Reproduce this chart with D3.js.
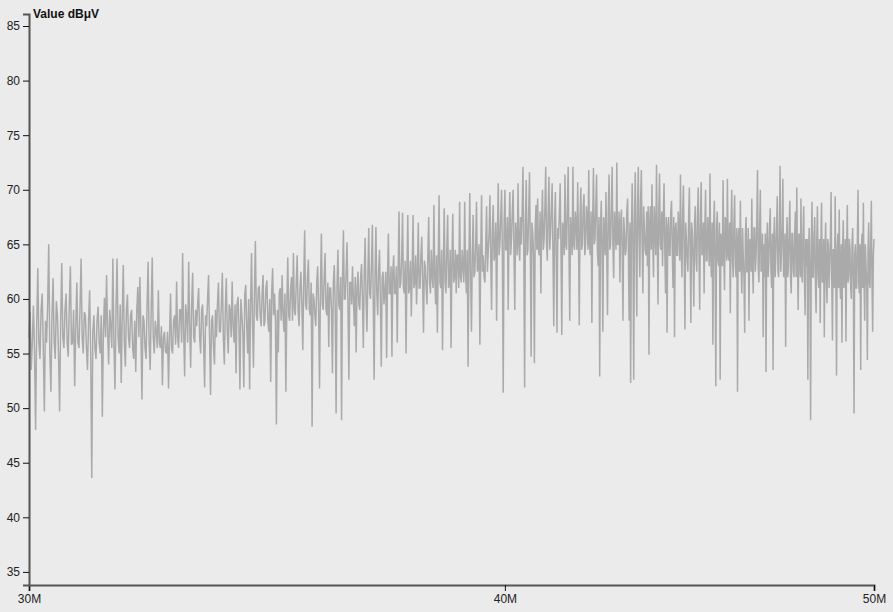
<!DOCTYPE html>
<html>
<head>
<meta charset="utf-8">
<script src="https://cdn.jsdelivr.net/npm/d3@7"></script>
<style>
  html, body { margin: 0; padding: 0; background: #ebebeb; }
  svg { display: block; }
  .axis text { font-family: "Liberation Sans", Arial, sans-serif; font-size: 12px; fill: #222; }
  .axis .domain { stroke: #555; stroke-width: 2; }
  .axis .tick line { stroke: #111; stroke-width: 1; }
</style>
</head>
<body>
<svg id="chart" width="893" height="612"></svg>
<script>
// Frequency sweep: 30 MHz to 50 MHz, one reading every 20 kHz
const startFreq = 30e6;
const stepFreq = 20e3;
const yTitle = "Value dBμV";
const xTickValues = [30e6, 40e6, 50e6];
const xTickLabels = ["30M", "40M", "50M"];
const yTickValues = [35, 40, 45, 50, 55, 60, 65, 70, 75, 80, 85];
const yDomain = [33.8, 86.1];

const values = [
  56.5, 58.8, 53.5, 56.0, 59.4, 55.2, 48.0, 57.5, 62.8, 56.0, 54.5, 59.0, 60.5, 55.5, 49.7, 58.0, 56.0, 59.5, 65.0, 55.0,
  51.5, 58.5, 61.9, 56.0, 54.5, 59.8, 58.5, 55.0, 49.7, 58.0, 63.3, 56.5, 55.5, 59.0, 60.5, 56.0, 54.7, 59.5, 63.0, 55.8,
  56.0, 59.0, 52.0, 57.5, 61.5, 56.0, 55.5, 59.2, 63.7, 56.5, 55.0, 58.8, 58.5, 55.5, 53.5, 58.0, 60.8, 55.0, 43.6, 57.0,
  58.5, 55.5, 54.5, 58.0, 59.3, 56.0, 55.0, 58.5, 49.2, 57.0, 60.1, 56.5, 62.2, 57.0, 54.0, 59.0, 57.5, 55.5, 63.7, 56.0,
  51.7, 59.0, 63.7, 56.5, 55.0, 59.5, 52.3, 58.5, 63.1, 56.0, 53.8, 59.0, 60.4, 56.5, 55.5, 58.5, 59.0, 55.5, 54.5, 58.0,
  53.3, 59.0, 61.1, 56.5, 62.0, 57.0, 50.8, 58.5, 58.0, 55.5, 54.5, 59.5, 63.4, 56.0, 53.5, 59.0, 63.8, 56.5, 55.0, 58.0,
  57.0, 55.5, 60.8, 56.0, 55.5, 57.5, 52.1, 56.5, 57.0, 55.2, 55.0, 57.0, 51.8, 56.5, 60.5, 55.5, 55.0, 58.0, 58.5, 55.8,
  61.6, 56.5, 55.5, 59.0, 59.0, 56.0, 64.2, 57.0, 52.9, 59.5, 58.5, 56.0, 63.4, 57.5, 53.7, 59.5, 62.4, 56.5, 56.0, 59.0,
  57.5, 59.5, 61.0, 56.5, 55.0, 59.0, 59.5, 56.0, 51.9, 58.5, 57.5, 60.0, 62.2, 56.5, 51.2, 58.0, 58.5, 55.5, 54.0, 59.0,
  56.5, 59.5, 61.5, 57.0, 57.0, 59.5, 62.4, 56.5, 54.0, 59.0, 61.9, 57.0, 55.0, 59.5, 59.0, 56.5, 61.6, 57.5, 56.0, 59.5,
  53.2, 59.5, 60.2, 57.5, 51.7, 60.0, 58.5, 57.0, 51.9, 60.5, 61.3, 57.5, 55.0, 60.0, 51.7, 59.5, 64.2, 58.0, 53.7, 60.5,
  65.3, 58.5, 58.0, 61.0, 61.1, 58.5, 57.5, 60.5, 62.2, 57.5, 58.0, 61.0, 61.7, 58.0, 57.0, 60.0, 52.4, 60.5, 62.8, 58.5,
  60.5, 58.0, 48.5, 59.0, 55.1, 60.5, 61.0, 58.0, 62.2, 58.5, 57.0, 60.5, 51.5, 59.5, 63.8, 58.5, 58.0, 61.0, 62.0, 58.0,
  64.2, 59.0, 58.5, 61.5, 64.0, 59.0, 57.5, 61.0, 62.5, 59.5, 55.3, 61.5, 66.3, 59.5, 59.0, 62.0, 63.6, 59.0, 58.5, 61.5,
  48.3, 60.5, 60.0, 58.5, 57.5, 61.5, 63.0, 59.0, 51.8, 61.0, 66.0, 59.5, 59.0, 62.0, 64.2, 59.0, 58.5, 61.5, 55.6, 61.0,
  61.0, 59.0, 53.2, 61.5, 63.1, 59.5, 49.5, 61.0, 64.5, 59.5, 59.0, 62.0, 48.9, 61.5, 66.3, 60.0, 60.0, 62.5, 65.2, 59.5,
  52.6, 61.5, 61.5, 59.5, 63.0, 60.0, 57.5, 62.0, 55.1, 61.0, 62.5, 59.5, 59.0, 62.0, 63.2, 60.0, 55.5, 62.5, 65.6, 60.0,
  57.0, 62.0, 66.5, 60.5, 60.0, 63.0, 66.8, 60.0, 52.6, 62.0, 66.6, 60.5, 58.5, 62.5, 64.5, 60.0, 53.8, 62.0, 62.5, 59.5,
  60.5, 62.5, 54.6, 62.0, 66.0, 60.5, 60.5, 63.0, 54.7, 62.5, 64.0, 60.5, 60.5, 63.0, 56.0, 62.5, 68.0, 61.0, 61.5, 63.5,
  67.9, 61.0, 60.5, 63.5, 55.0, 62.5, 67.7, 60.5, 61.0, 63.5, 58.4, 62.5, 67.7, 61.0, 61.5, 64.0, 59.5, 62.5, 67.0, 61.0,
  61.0, 64.0, 65.7, 61.5, 56.9, 63.5, 63.0, 61.0, 59.5, 64.0, 67.5, 61.5, 60.5, 64.5, 62.0, 61.0, 68.6, 62.0, 59.5, 64.0,
  56.9, 63.5, 69.5, 61.5, 61.0, 64.5, 55.3, 63.0, 68.3, 61.5, 60.5, 64.5, 67.7, 61.0, 61.5, 64.5, 55.5, 63.5, 67.8, 61.5,
  62.0, 64.5, 60.5, 64.0, 64.0, 61.0, 68.9, 62.0, 61.5, 64.5, 63.0, 61.5, 68.9, 62.5, 60.5, 64.5, 53.8, 63.5, 69.7, 62.0,
  57.0, 64.0, 67.7, 62.0, 62.5, 65.0, 68.9, 62.5, 63.0, 65.0, 55.8, 64.0, 69.5, 62.5, 64.0, 62.0, 61.5, 65.0, 68.5, 62.5,
  64.5, 66.0, 69.5, 63.5, 59.0, 66.5, 68.6, 63.5, 64.0, 67.0, 58.0, 66.0, 70.6, 64.0, 65.0, 67.5, 70.0, 64.0, 51.4, 66.5,
  70.0, 64.5, 64.5, 67.5, 59.0, 66.5, 69.8, 64.0, 65.5, 68.0, 70.0, 64.5, 59.0, 67.0, 66.0, 64.0, 70.6, 65.0, 63.5, 67.5,
  65.0, 68.0, 72.1, 64.5, 51.9, 67.0, 70.9, 64.0, 64.5, 68.0, 71.6, 64.5, 54.7, 67.0, 66.0, 64.0, 54.1, 66.5, 68.6, 64.5,
  69.2, 64.5, 64.0, 68.0, 60.5, 67.0, 70.0, 64.5, 65.5, 68.5, 72.1, 65.0, 63.5, 68.0, 71.2, 64.5, 66.0, 68.5, 70.6, 64.0,
  57.5, 67.0, 69.8, 64.0, 56.9, 66.5, 65.5, 68.0, 70.6, 64.5, 56.7, 67.0, 66.5, 64.0, 71.4, 65.0, 64.5, 68.5, 72.1, 64.5,
  58.0, 67.5, 66.0, 64.0, 72.1, 65.0, 64.5, 68.0, 67.0, 64.5, 70.7, 65.5, 57.6, 67.5, 70.2, 64.5, 65.0, 68.5, 69.6, 64.0,
  65.0, 68.5, 67.5, 64.5, 71.8, 65.0, 64.0, 68.0, 57.8, 67.0, 72.0, 65.0, 65.5, 68.5, 71.4, 64.5, 63.0, 67.5, 52.9, 66.5,
  69.0, 64.5, 57.0, 67.5, 66.5, 64.0, 69.8, 65.0, 58.5, 68.0, 71.4, 64.5, 65.0, 68.5, 72.1, 65.0, 61.9, 68.0, 66.5, 64.5,
  72.5, 65.0, 65.0, 68.0, 61.5, 67.0, 68.2, 64.5, 58.0, 67.5, 66.0, 64.0, 64.5, 68.0, 69.2, 64.5, 58.0, 67.0, 52.3, 66.0,
  70.6, 65.0, 52.6, 67.5, 71.6, 65.0, 58.4, 68.5, 72.1, 65.5, 62.0, 69.0, 71.8, 65.0, 60.5, 68.5, 66.5, 64.5, 64.0, 68.0,
  63.0, 68.5, 54.9, 67.0, 68.5, 64.5, 70.5, 65.5, 62.0, 68.5, 66.5, 64.0, 72.3, 65.5, 59.5, 68.0, 71.5, 65.0, 64.5, 68.0,
  63.0, 67.5, 70.6, 64.5, 60.5, 67.5, 56.9, 66.5, 67.5, 64.0, 64.0, 68.0, 69.0, 64.5, 61.0, 67.5, 56.5, 66.5, 67.0, 64.0,
  64.0, 68.0, 66.5, 63.5, 71.4, 64.5, 62.0, 68.0, 70.4, 64.0, 57.2, 67.0, 65.5, 63.5, 62.5, 67.5, 70.2, 64.0, 57.8, 67.0,
  66.0, 63.5, 59.3, 67.0, 68.5, 63.5, 62.5, 67.5, 70.2, 64.0, 59.0, 67.5, 70.7, 64.0, 64.5, 67.0, 60.5, 66.5, 70.0, 63.5,
  63.5, 67.5, 66.0, 63.0, 71.5, 64.0, 62.0, 67.0, 55.8, 66.5, 69.0, 63.5, 52.0, 66.5, 68.0, 63.5, 63.0, 67.0, 52.6, 66.0,
  65.0, 63.0, 70.9, 64.0, 60.8, 67.5, 67.0, 63.5, 71.0, 64.0, 63.5, 67.0, 58.7, 66.5, 70.0, 63.5, 62.0, 67.0, 69.5, 63.0,
  62.0, 66.5, 51.5, 65.5, 66.5, 62.5, 69.0, 63.0, 60.5, 66.5, 64.0, 62.0, 56.9, 66.0, 67.5, 62.5, 62.5, 66.5, 58.0, 65.5,
  65.0, 62.5, 69.2, 63.0, 60.5, 66.5, 66.5, 62.5, 64.0, 67.0, 71.8, 63.0, 61.5, 66.5, 70.0, 62.5, 63.0, 66.0, 56.5, 65.0,
  62.0, 66.0, 53.3, 65.0, 67.0, 62.0, 63.5, 66.5, 68.3, 62.5, 61.0, 66.0, 53.5, 65.5, 67.5, 62.0, 64.0, 66.5, 69.4, 62.5,
  62.0, 66.0, 72.2, 62.5, 64.0, 66.5, 71.0, 62.0, 62.5, 66.0, 55.6, 65.0, 67.5, 62.0, 63.0, 66.5, 69.0, 62.0, 60.5, 66.0,
  66.0, 62.5, 62.0, 66.0, 68.0, 62.0, 70.2, 63.0, 59.0, 66.0, 65.5, 62.0, 69.2, 62.5, 61.5, 66.0, 68.5, 62.0, 58.5, 65.5,
  63.0, 65.5, 52.6, 64.5, 66.5, 62.0, 48.9, 64.5, 68.9, 62.0, 62.0, 66.0, 67.5, 61.5, 58.7, 65.5, 68.5, 62.0, 61.0, 65.5,
  57.8, 65.0, 68.8, 61.5, 62.0, 65.5, 56.5, 64.5, 67.0, 61.5, 59.6, 65.5, 65.0, 61.0, 63.0, 65.5, 69.8, 61.5, 56.2, 64.5,
  64.5, 61.0, 69.4, 62.0, 53.0, 64.5, 66.0, 61.0, 68.2, 61.5, 60.0, 65.0, 56.0, 64.5, 67.2, 61.0, 62.5, 65.5, 56.1, 64.5,
  68.6, 61.5, 62.0, 65.5, 64.5, 61.0, 60.0, 65.0, 66.5, 61.0, 49.5, 64.0, 65.0, 61.0, 61.0, 65.5, 70.0, 61.5, 60.5, 65.0,
  53.5, 64.5, 66.0, 61.0, 68.8, 61.5, 58.0, 65.0, 63.0, 61.0, 54.4, 64.5, 67.0, 61.5, 61.0, 65.0, 69.0, 61.5, 57.0, 64.0, 65.5
];

const data = values.map((v, i) => ({ f: startFreq + i * stepFreq, v }));

const svg = d3.select("#chart");
const x = d3.scaleLog().domain([xTickValues[0], xTickValues[xTickValues.length - 1]]).range([29, 874]);
const y = d3.scaleLinear().domain(yDomain).range([585, 14]);

const line = d3.line().x(d => x(d.f)).y(d => y(d.v));

svg.append("path")
  .datum(data)
  .attr("fill", "none")
  .attr("stroke", "#aaaaaa")
  .attr("stroke-width", 1.5)
  .attr("stroke-linejoin", "miter")
  .attr("d", line);

const xAxis = d3.axisBottom(x)
  .tickValues(xTickValues)
  .tickFormat((d, i) => xTickLabels[i]);
svg.append("g").attr("class", "axis x")
  .attr("transform", "translate(0,585)")
  .call(xAxis);

const yAxis = d3.axisLeft(y).tickValues(yTickValues).tickFormat(d3.format("d"));
svg.append("g").attr("class", "axis y")
  .attr("transform", "translate(29,0)")
  .call(yAxis);

svg.selectAll(".axis .tick text").attr("fill", "#222");

svg.append("text")
  .attr("x", 33)
  .attr("y", 18)
  .attr("font-family", "Liberation Sans, Arial, sans-serif")
  .attr("font-size", 12)
  .attr("font-weight", "bold")
  .attr("fill", "#111")
  .text(yTitle);
</script>
</body>
</html>
